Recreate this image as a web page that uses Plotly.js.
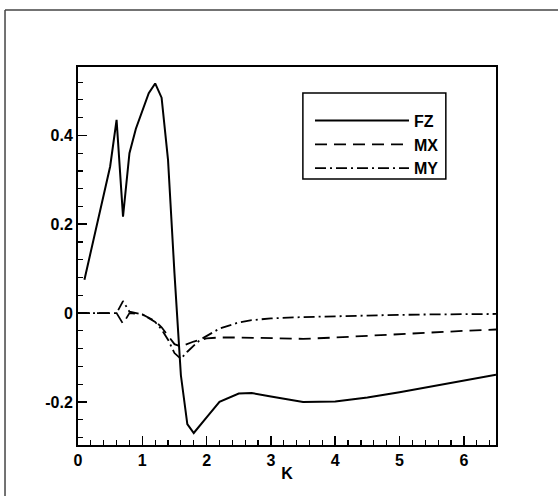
<!DOCTYPE html>
<html>
<head>
<meta charset="utf-8">
<script src="https://cdn.plot.ly/plotly-3.0.1.min.js"></script>
<style>html,body{margin:0;padding:0;background:#fff;}#chart{width:558px;height:496px;}</style>
</head>
<body>
<div id="chart"></div>
<script>
// FZ series
const fzK = [0.1,0.3,0.5,0.6,0.7,0.8,0.9,1.1,1.2,1.3,1.4,1.5,1.6,1.7,1.8,2.0,2.2,2.5,2.7,3.0,3.5,4.0,4.5,5.0,5.5,6.0,6.5];
const fzV = [0.075,0.2,0.33,0.435,0.217,0.36,0.415,0.495,0.517,0.485,0.345,0.09,-0.14,-0.25,-0.27,-0.235,-0.2,-0.181,-0.18,-0.188,-0.2,-0.199,-0.19,-0.178,-0.165,-0.152,-0.139];
// MX series
const mxK = [0,0.6,0.7,0.8,1.0,1.2,1.3,1.4,1.5,1.6,1.7,1.8,2.0,2.2,2.5,3.0,3.5,4.0,4.5,5.0,5.5,6.0,6.5];
const mxV = [0,0,-0.024,0,-0.003,-0.018,-0.032,-0.05,-0.07,-0.075,-0.07,-0.064,-0.057,-0.055,-0.055,-0.056,-0.058,-0.055,-0.051,-0.047,-0.043,-0.04,-0.037];
// MY series
const myK = [0,0.6,0.7,0.8,1.0,1.2,1.3,1.4,1.5,1.6,1.7,1.9,2.2,2.5,2.7,3.0,3.5,4.0,4.5,5.0,5.5,6.0,6.5];
const myV = [0,0,0.027,0.003,-0.003,-0.02,-0.037,-0.06,-0.09,-0.103,-0.087,-0.06,-0.035,-0.021,-0.016,-0.012,-0.009,-0.007,-0.005,-0.004,-0.003,-0.003,-0.002];
// ticks
const xTickVals = [0,1,2,3,4,5,6];
const xTickText = ['0','1','2','3','4','5','6'];
const yTickVals = [-0.2,0,0.2,0.4];
const yTickText = ['-0.2','0','0.2','0.4'];
const seriesNames = ['FZ','MX','MY'];

const font = {family:'"Liberation Sans", Arial, sans-serif', size:16, color:'#000'};
const traces = [
  {x:fzK, y:fzV, name:seriesNames[0], mode:'lines', line:{color:'#000', width:2}},
  {x:mxK, y:mxV, name:seriesNames[1], mode:'lines', line:{color:'#000', width:1.8, dash:'12px,7px'}},
  {x:myK, y:myV, name:seriesNames[2], mode:'lines', line:{color:'#000', width:1.8, dash:'11px,4px,2px,4px'}}
];
const axisCommon = {
  showline:true, linecolor:'#000', linewidth:2, mirror:true,
  ticks:'inside', ticklen:9, tickwidth:1.5, tickcolor:'#000',
  showgrid:false, zeroline:false, tickmode:'array',
  tickfont:{family:font.family, size:16, color:'#000', weight:'bold'}
};
const layout = {
  width:558, height:496,
  margin:{l:78, r:62, t:67, b:51},
  paper_bgcolor:'#fff', plot_bgcolor:'#fff',
  font:font,
  showlegend:true,
  xaxis:Object.assign({}, axisCommon, {
    range:[0,6.5], tickvals:xTickVals, ticktext:xTickText,
    minor:{tickmode:'linear', tick0:0, dtick:0.2, ticks:'inside', ticklen:5, tickwidth:1.2, tickcolor:'#000', showgrid:false},
    title:{text:'K', font:{family:font.family, size:16, color:'#000', weight:'bold'}, standoff:0}
  }),
  yaxis:Object.assign({}, axisCommon, {
    range:[-0.297,0.554], tickvals:yTickVals, ticktext:yTickText,
    minor:{tickmode:'linear', tick0:0, dtick:0.04, ticks:'inside', ticklen:5, tickwidth:1.2, tickcolor:'#000', showgrid:false}
  }),
  legend:{
    x:0.555, y:0.903, xanchor:'left', yanchor:'top',
    bgcolor:'rgba(0,0,0,0)', borderwidth:0,
    itemwidth:94, tracegroupgap:0,
    font:{family:font.family, size:16, color:'#000', weight:'bold'}
  },
  shapes:[
    {type:'rect', xref:'paper', yref:'paper', x0:0.538, x1:0.880, y0:0.704, y1:0.931, line:{color:'#000', width:1.5}},
    {type:'line', xref:'paper', yref:'paper', x0:-0.1746, x1:1.15, y0:1.1508, y1:1.1508, line:{color:'#444', width:1.5}},
    {type:'line', xref:'paper', yref:'paper', x0:-0.1746, x1:-0.1746, y0:1.1508, y1:-0.14, line:{color:'#444', width:1.5}}
  ]
};
Plotly.newPlot('chart', traces, layout, {staticPlot:true, displayModeBar:false});
</script>
</body>
</html>
